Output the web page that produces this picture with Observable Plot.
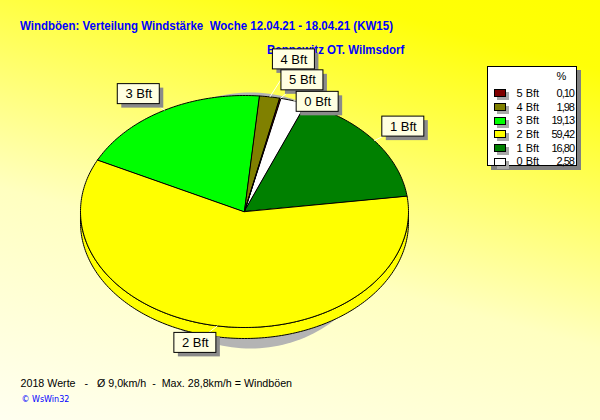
<!DOCTYPE html>
<html><head><meta charset="utf-8">
<script src="https://cdn.jsdelivr.net/npm/d3@7"></script>
<script src="https://cdn.jsdelivr.net/npm/@observablehq/plot@0.6"></script>
<style>
html,body{margin:0;padding:0;}
#chart{position:relative;width:600px;height:420px;overflow:hidden;
  background:linear-gradient(195deg,#ffff00 0%,#ffff08 12%,#ffffc0 60%,#fffff0 100%);
  font-family:"Liberation Sans",Arial,sans-serif;}
#chart svg{position:absolute;left:0;top:0;z-index:1;}
.t{position:absolute;white-space:pre;line-height:1;}
.hd{font-weight:bold;color:#0000ff;font-size:13px;transform:scaleX(0.885);transform-origin:0 50%;}
#legend{position:absolute;left:487px;top:66px;width:88px;height:98px;background:#fff;border:1px solid #000;box-shadow:4px 4px 0 #808080;z-index:2;}
.lg{position:absolute;font-size:11px;line-height:1;white-space:pre;color:#000;z-index:3;}
.sw{position:absolute;width:10px;height:6px;border:1px solid #000;box-shadow:3px 3px 0 #a8a8a8;z-index:3;}
</style></head><body><div id="chart"></div>
<script>
// ---- data ----
const categories = ["5 Bft","4 Bft","3 Bft","2 Bft","1 Bft","0 Bft"];
const percents = [0.10, 1.98, 19.13, 59.42, 16.80, 2.58];
const percentLabels = ["0,10","1,98","19,13","59,42","16,80","2,58"];
const colors = ["#800000","#808000","#00ff00","#ffff00","#008000","#ffffff"];
const title = "Windböen: Verteilung Windstärke  Woche 12.04.21 - 18.04.21 (KW15)";
const subtitle = "Bannewitz OT. Wilmsdorf";
const footer = "2018 Werte   -   Ø 9,0km/h  -  Max. 28,8km/h = Windböen";
const credit = "© WsWin32";

// ---- layout ----
const W = 600, H = 420;
const CX = 244, CY = 211, RX = 164, RY = 116, DEPTH = 11;
const START = 77.2; // degrees (math), slices run clockwise 0 Bft .. 5 Bft
const SHADOW = {cx: 250, cy: 220, rx: 134, ry: 128};
const BOX = {w: 42, h: 20, shadow: 4};
const labelNudge = {"1 Bft":[29,-14],"3 Bft":[-26,-16],"2 Bft":[-22,17],"0 Bft":[24,1],"5 Bft":[22,-18],"4 Bft":[24,-37.5]};

const rad = d => d * Math.PI / 180;
const px2u = dx => dx / RX, py2u = dy => -dy / RY;

// build slices, clockwise in order 0 Bft .. 5 Bft
const order = d3.range(categories.length).reverse();
let a = START;
const slices = order.map(i => {
  const a0 = a, a1 = a - percents[i] * 3.6; a = a1;
  return {name: categories[i], color: colors[i], lo: a1, hi: a0, mid: (a0 + a1) / 2};
});

function arcPts(lo, hi, dv = 0) {
  const n = Math.max(1, Math.ceil((hi - lo) / 1));
  return d3.range(n + 1).map(k => {
    const t = rad(lo + (hi - lo) * k / n);
    return {x: Math.cos(t), y: Math.sin(t) - dv};
  });
}

const marks = [];
// pie shadow
const sh = d3.range(0, 361, 2).map(d => ({
  x: px2u(SHADOW.cx - CX) + (SHADOW.rx / RX) * Math.cos(rad(d)),
  y: py2u(SHADOW.cy - CY) + (SHADOW.ry / RY) * Math.sin(rad(d))
}));
marks.push(Plot.line(sh, {x: "x", y: "y", curve: "linear-closed", fill: "#b4b4b4", stroke: "none"}));

// side walls (front half)
const dv = DEPTH / RY;
const fronts = [[-540,-360],[-180,0],[180,360]];
for (const s of slices) {
  for (const [f0, f1] of fronts) {
    const lo = Math.max(s.lo, f0), hi = Math.min(s.hi, f1);
    if (hi > lo) {
      const pts = arcPts(lo, hi).concat(arcPts(lo, hi, dv).reverse());
      marks.push(Plot.line(pts, {x: "x", y: "y", curve: "linear-closed", fill: s.color, stroke: "#000", strokeWidth: 1}));
    }
  }
}
// top surface
for (const s of slices) {
  const pts = [{x: 0, y: 0}].concat(arcPts(s.lo, s.hi));
  marks.push(Plot.line(pts, {x: "x", y: "y", curve: "linear-closed", fill: s.color, stroke: "#000", strokeWidth: 1}));
}

// labels
const labels = slices.map(s => {
  const ax = Math.cos(rad(s.mid)), ay = Math.sin(rad(s.mid));
  const [nx, ny] = labelNudge[s.name];
  const bx = ax + px2u(nx), by = ay + py2u(ny);
  const hw = px2u(BOX.w / 2), hh = BOX.h / 2 / RY;
  return {name: s.name, ax, ay, bx, by,
    x1: bx - hw, x2: bx + hw, y1: by - hh, y2: by + hh,
    sx1: bx - hw + px2u(BOX.shadow), sx2: bx + hw + px2u(BOX.shadow),
    sy1: by - hh + py2u(BOX.shadow), sy2: by + hh + py2u(BOX.shadow)};
});
marks.push(Plot.link(labels, {x1: "ax", y1: "ay", x2: "bx", y2: "by", stroke: "#fffff0", strokeWidth: 1}));
marks.push(Plot.rect(labels, {x1: "sx1", x2: "sx2", y1: "sy1", y2: "sy2", fill: "#8a8a8a"}));
marks.push(Plot.rect(labels, {x1: "x1", x2: "x2", y1: "y1", y2: "y2", fill: "#ffffe1", stroke: "#000", strokeWidth: 1}));
marks.push(Plot.text(labels, {x: "bx", y: "by", text: "name", fontSize: 13, fill: "#000", fontFamily: "Liberation Sans, Arial, sans-serif"}));

const chart = Plot.plot({
  width: W, height: H, margin: 0,
  x: {domain: [-CX / RX, (W - CX) / RX], axis: null},
  y: {domain: [(CY - H) / RY, CY / RY], axis: null},
  style: {background: "transparent", overflow: "visible"},
  marks
});

const root = document.getElementById("chart");
function addText(txt, cls, left, top, extra = {}) {
  const el = document.createElement("div");
  el.className = cls; el.textContent = txt;
  el.style.left = left + "px"; el.style.top = top + "px";
  Object.assign(el.style, extra);
  root.appendChild(el); return el;
}
addText(title, "t hd", 20, 19);
addText(subtitle, "t hd", 266.5, 42.5);
addText(footer, "t", 20.5, 377.5, {fontSize: "10.7px", color: "#000"});
addText(credit, "t", 21.5, 395.5, {fontSize: "8px", color: "#0000ff", fontFamily: "DejaVu Sans, sans-serif"});
root.appendChild(chart);

// legend
const lg = document.createElement("div"); lg.id = "legend"; root.appendChild(lg);
addText("%", "lg", 556.5, 70.5);
categories.forEach((c, i) => {
  const cy = 93.3 + i * 13.7;
  const sw = document.createElement("div"); sw.className = "sw";
  sw.style.left = "494px"; sw.style.top = (cy - 4) + "px"; sw.style.background = colors[i];
  root.appendChild(sw);
  addText(c, "lg", 516.5, cy - 5.5);
  const v = addText(percentLabels[i], "lg", 0, cy - 5.5, {letterSpacing: "-1px", textAlign: "right"});
  v.style.left = ""; v.style.right = (600 - 574) + "px";
});
</script></body></html>
